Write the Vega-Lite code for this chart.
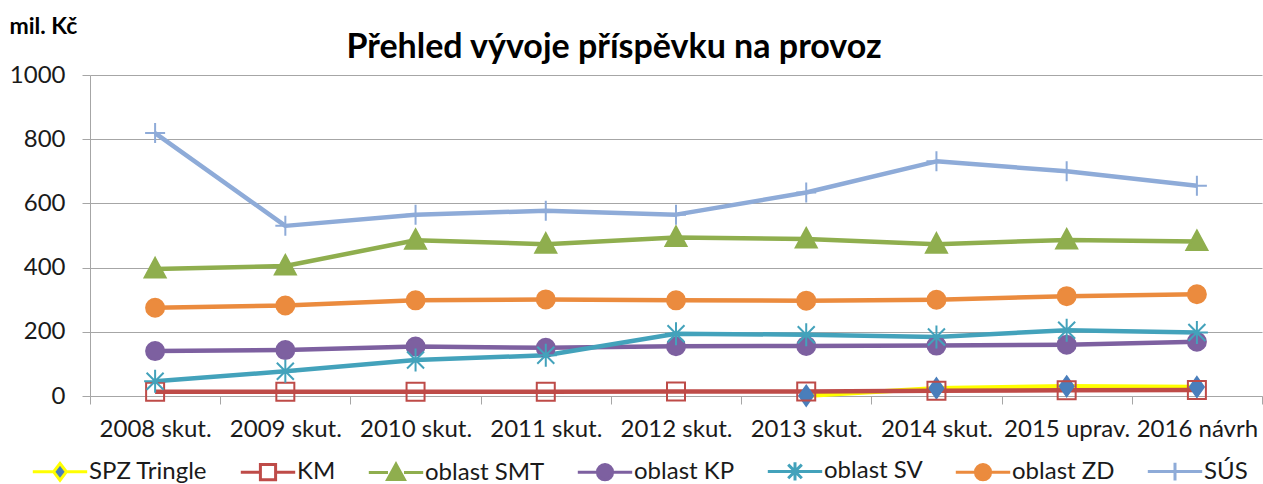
{
  "$schema": "https://vega.github.io/schema/vega-lite/v6.json",
  "width": 1172,
  "height": 321,
  "autosize": "none",
  "padding": {"left": 90, "top": 75, "right": 1, "bottom": 88},
  "background": "white",
  "title": {
    "text": "Přehled vývoje příspěvku na provoz",
    "font": "Lato",
    "fontSize": 34,
    "fontWeight": "bold",
    "color": "#000000",
    "anchor": "middle",
    "dx": -62,
    "dy": 94,
    "baseline": "alphabetic",
    "offset": 17
  },
  "data": {
    "values": [
      {"cat": "2013 skut.", "series": "SPZ Tringle", "value": 1},
      {"cat": "2014 skut.", "series": "SPZ Tringle", "value": 24},
      {"cat": "2015 uprav.", "series": "SPZ Tringle", "value": 30},
      {"cat": "2016 návrh", "series": "SPZ Tringle", "value": 28},
      {"cat": "2008 skut.", "series": "KM", "value": 13},
      {"cat": "2009 skut.", "series": "KM", "value": 13},
      {"cat": "2010 skut.", "series": "KM", "value": 13},
      {"cat": "2011 skut.", "series": "KM", "value": 13},
      {"cat": "2012 skut.", "series": "KM", "value": 14},
      {"cat": "2013 skut.", "series": "KM", "value": 14},
      {"cat": "2014 skut.", "series": "KM", "value": 16},
      {"cat": "2015 uprav.", "series": "KM", "value": 18},
      {"cat": "2016 návrh", "series": "KM", "value": 19},
      {"cat": "2008 skut.", "series": "oblast SMT", "value": 396},
      {"cat": "2009 skut.", "series": "oblast SMT", "value": 405},
      {"cat": "2010 skut.", "series": "oblast SMT", "value": 485},
      {"cat": "2011 skut.", "series": "oblast SMT", "value": 473},
      {"cat": "2012 skut.", "series": "oblast SMT", "value": 494},
      {"cat": "2013 skut.", "series": "oblast SMT", "value": 489},
      {"cat": "2014 skut.", "series": "oblast SMT", "value": 473},
      {"cat": "2015 uprav.", "series": "oblast SMT", "value": 486},
      {"cat": "2016 návrh", "series": "oblast SMT", "value": 481},
      {"cat": "2008 skut.", "series": "oblast KP", "value": 140},
      {"cat": "2009 skut.", "series": "oblast KP", "value": 143},
      {"cat": "2010 skut.", "series": "oblast KP", "value": 154},
      {"cat": "2011 skut.", "series": "oblast KP", "value": 150},
      {"cat": "2012 skut.", "series": "oblast KP", "value": 155},
      {"cat": "2013 skut.", "series": "oblast KP", "value": 156},
      {"cat": "2014 skut.", "series": "oblast KP", "value": 157},
      {"cat": "2015 uprav.", "series": "oblast KP", "value": 160},
      {"cat": "2016 návrh", "series": "oblast KP", "value": 169},
      {"cat": "2008 skut.", "series": "oblast SV", "value": 46},
      {"cat": "2009 skut.", "series": "oblast SV", "value": 77},
      {"cat": "2010 skut.", "series": "oblast SV", "value": 112},
      {"cat": "2011 skut.", "series": "oblast SV", "value": 127},
      {"cat": "2012 skut.", "series": "oblast SV", "value": 194},
      {"cat": "2013 skut.", "series": "oblast SV", "value": 191},
      {"cat": "2014 skut.", "series": "oblast SV", "value": 184},
      {"cat": "2015 uprav.", "series": "oblast SV", "value": 205},
      {"cat": "2016 návrh", "series": "oblast SV", "value": 198},
      {"cat": "2008 skut.", "series": "oblast ZD", "value": 275},
      {"cat": "2009 skut.", "series": "oblast ZD", "value": 282},
      {"cat": "2010 skut.", "series": "oblast ZD", "value": 298},
      {"cat": "2011 skut.", "series": "oblast ZD", "value": 301},
      {"cat": "2012 skut.", "series": "oblast ZD", "value": 298},
      {"cat": "2013 skut.", "series": "oblast ZD", "value": 297},
      {"cat": "2014 skut.", "series": "oblast ZD", "value": 300},
      {"cat": "2015 uprav.", "series": "oblast ZD", "value": 311},
      {"cat": "2016 návrh", "series": "oblast ZD", "value": 317},
      {"cat": "2008 skut.", "series": "SÚS", "value": 819},
      {"cat": "2009 skut.", "series": "SÚS", "value": 530},
      {"cat": "2010 skut.", "series": "SÚS", "value": 565},
      {"cat": "2011 skut.", "series": "SÚS", "value": 577},
      {"cat": "2012 skut.", "series": "SÚS", "value": 565},
      {"cat": "2013 skut.", "series": "SÚS", "value": 634},
      {"cat": "2014 skut.", "series": "SÚS", "value": 731},
      {"cat": "2015 uprav.", "series": "SÚS", "value": 700},
      {"cat": "2016 návrh", "series": "SÚS", "value": 655}
    ]
  },
  "encoding": {
    "x": {
      "field": "cat",
      "type": "ordinal",
      "sort": null,
      "scale": {
        "type": "band",
        "paddingInner": 0,
        "paddingOuter": 0,
        "domain": ["2008 skut.", "2009 skut.", "2010 skut.", "2011 skut.", "2012 skut.", "2013 skut.", "2014 skut.", "2015 uprav.", "2016 návrh"]
      },
      "axis": {
        "title": null,
        "labelAngle": 0,
        "labelFont": "Lato",
        "labelFontSize": 24,
        "labelColor": "#1a1a1a",
        "labelPadding": 13,
        "labelOverlap": false,
        "labelLimit": 300,
        "tickBand": "extent",
        "tickSize": 8,
        "tickColor": "#a6a6a6",
        "domainColor": "#a6a6a6",
        "grid": false
      }
    },
    "y": {
      "field": "value",
      "type": "quantitative",
      "scale": {"domain": [0, 1000], "nice": false, "zero": true},
      "axis": {
        "values": [0, 200, 400, 600, 800, 1000],
        "format": "d",
        "title": "mil. Kč",
        "titleAngle": 0,
        "titleAlign": "left",
        "titleBaseline": "alphabetic",
        "titleX": -81,
        "titleY": -42,
        "titleFont": "Lato",
        "titleFontSize": 23,
        "titleFontWeight": "bold",
        "titleColor": "#000000",
        "labelFont": "Lato",
        "labelFontSize": 24,
        "labelColor": "#1a1a1a",
        "labelPadding": 17,
        "tickSize": 8,
        "tickColor": "#a6a6a6",
        "domainColor": "#a6a6a6",
        "gridColor": "#a6a6a6",
        "grid": true
      }
    }
  },
  "layer": [
    {
      "mark": {"type": "line", "strokeWidth": 4.5, "strokeJoin": "round"},
      "encoding": {
        "stroke": {
          "field": "series",
          "type": "nominal",
          "legend": null,
          "scale": {
            "domain": ["SPZ Tringle", "KM", "oblast SMT", "oblast KP", "oblast SV", "oblast ZD", "SÚS"],
            "range": ["#FFFF00", "#BE4B48", "#8FAE4E", "#7D60A0", "#43A2BB", "#EB8B3E", "#8EABD8"]
          }
        }
      }
    },
    {
      "mark": {"type": "point", "filled": true, "size": 400, "strokeWidth": 2, "opacity": 1},
      "encoding": {
        "shape": {
          "field": "series",
          "type": "nominal",
          "legend": null,
          "scale": {
            "domain": ["SPZ Tringle", "KM", "oblast SMT", "oblast KP", "oblast SV", "oblast ZD", "SÚS"],
            "range": [
              "M0,-1L0.7,0L0,1L-0.7,0Z",
              "M-0.9,-0.9L0.9,-0.9L0.9,0.9L-0.9,0.9Z",
              "M0,-1.1L1.05,0.85L-1.05,0.85Z",
              "M-0.9,0A0.9,0.9,0,1,1,0.9,0A0.9,0.9,0,1,1,-0.9,0Z",
              "M0,-1.15L0,1.15M-0.85,-0.85L0.85,0.85M-0.85,0.85L0.85,-0.85M-1.1,0L1.1,0",
              "M-0.9,0A0.9,0.9,0,1,1,0.9,0A0.9,0.9,0,1,1,-0.9,0Z",
              "M-1,0L1,0M0,-1L0,1"
            ]
          }
        },
        "fill": {
          "field": "series",
          "type": "nominal",
          "legend": null,
          "scale": {
            "domain": ["SPZ Tringle", "KM", "oblast SMT", "oblast KP", "oblast SV", "oblast ZD", "SÚS"],
            "range": ["#4A7EBB", "transparent", "#8FAE4E", "#7D60A0", "#43A2BB", "#EB8B3E", "#8EABD8"]
          }
        },
        "stroke": {
          "field": "series",
          "type": "nominal",
          "legend": null,
          "scale": {
            "domain": ["SPZ Tringle", "KM", "oblast SMT", "oblast KP", "oblast SV", "oblast ZD", "SÚS"],
            "range": ["#4A7EBB", "#BE4B48", "#8FAE4E", "#7D60A0", "#43A2BB", "#EB8B3E", "#8EABD8"]
          }
        }
      }
    },
    {
      "mark": {"type": "point", "filled": true, "opacity": 0, "strokeWidth": 3},
      "encoding": {
        "shape": {
          "field": "series",
          "type": "nominal",
          "scale": {
            "domain": ["SPZ Tringle", "KM", "oblast SMT", "oblast KP", "oblast SV", "oblast ZD", "SÚS"],
            "range": [
              "M-3.4,0L-0.8,0M0.8,0L3.4,0M0,-1.05L0.8,0L0,1.05L-0.8,0Z",
              "M-3.4,0L-0.95,0M0.95,0L3.4,0M-0.95,-0.95L0.95,-0.95L0.95,0.95L-0.95,0.95Z",
              "M-3.4,0L-1,0M1,0L3.4,0M0,-1.05L1.05,0.85L-1.05,0.85Z",
              "M-3.4,0L-0.95,0M0.95,0L3.4,0M-0.95,0A0.95,0.95,0,1,1,0.95,0A0.95,0.95,0,1,1,-0.95,0Z",
              "M-3.4,0L3.4,0M0,-1.15L0,1.15M-0.85,-0.85L0.85,0.85M-0.85,0.85L0.85,-0.85",
              "M-3.4,0L-0.95,0M0.95,0L3.4,0M-0.95,0A0.95,0.95,0,1,1,0.95,0A0.95,0.95,0,1,1,-0.95,0Z",
              "M-3.4,0L3.4,0M0,-1.1L0,1.1"
            ]
          },
          "legend": {
            "title": null,
            "orient": "none",
            "direction": "horizontal",
            "columns": 7,
            "legendX": -42,
            "legendY": 384,
            "symbolSize": 256,
            "symbolStrokeWidth": 3,
            "symbolOpacity": 1,
            "labelFont": "Lato",
            "labelFontSize": 24,
            "labelColor": "#1a1a1a",
            "labelOffset": 17,
            "labelLimit": 300,
            "columnPadding": 26,
            "padding": 0
          }
        },
        "fill": {
          "field": "series",
          "type": "nominal",
          "scale": {
            "domain": ["SPZ Tringle", "KM", "oblast SMT", "oblast KP", "oblast SV", "oblast ZD", "SÚS"],
            "range": ["#4A7EBB", "#FFFFFF", "#8FAE4E", "#7D60A0", "#43A2BB", "#EB8B3E", "#8EABD8"]
          }
        },
        "stroke": {
          "field": "series",
          "type": "nominal",
          "scale": {
            "domain": ["SPZ Tringle", "KM", "oblast SMT", "oblast KP", "oblast SV", "oblast ZD", "SÚS"],
            "range": ["#FFFF00", "#BE4B48", "#8FAE4E", "#7D60A0", "#43A2BB", "#EB8B3E", "#8EABD8"]
          }
        }
      }
    }
  ],
  "resolve": {
    "scale": {"stroke": "independent", "fill": "independent", "shape": "independent"},
    "legend": {"stroke": "independent", "fill": "independent", "shape": "independent"}
  },
  "config": {
    "view": {"stroke": null},
    "font": "Lato"
  }
}
